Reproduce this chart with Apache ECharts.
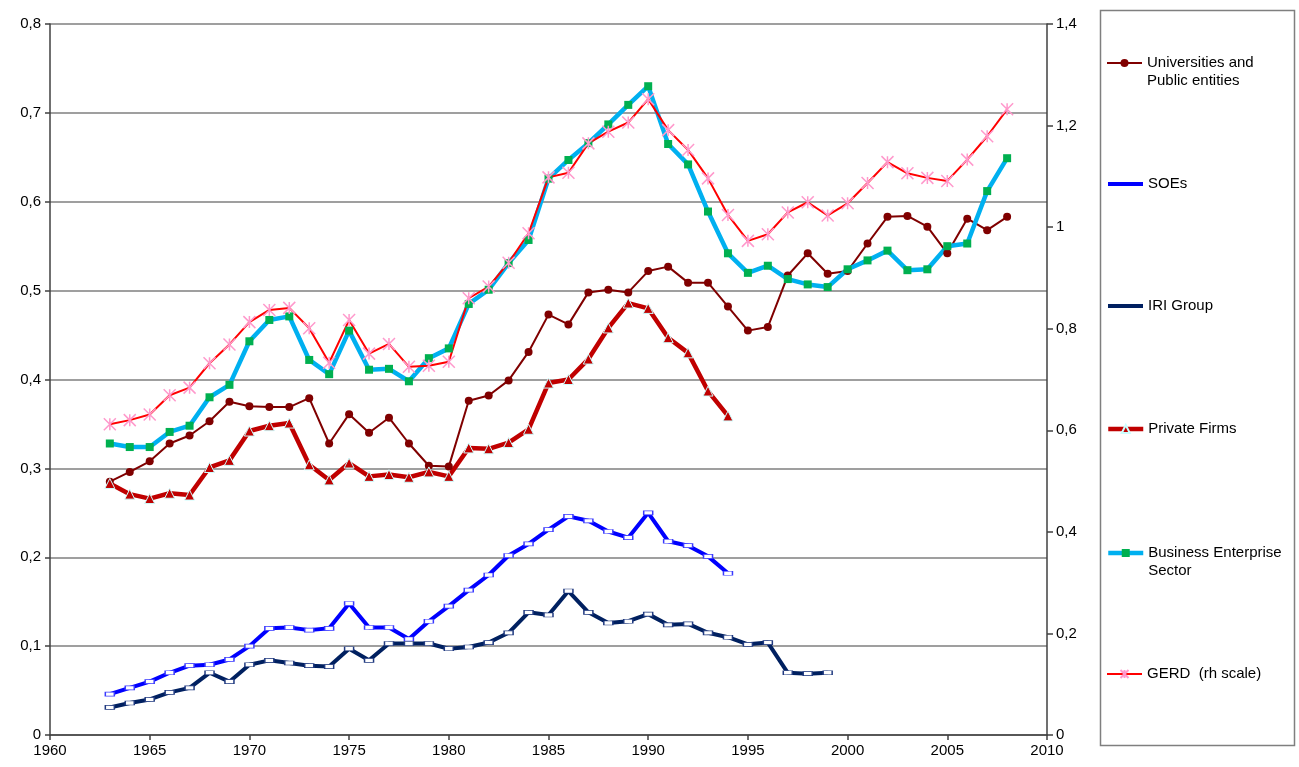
<!DOCTYPE html>
<html>
<head>
<meta charset="utf-8">
<script src="https://cdn.jsdelivr.net/npm/echarts@6.0.0/dist/echarts.min.js"></script>
<style>
  html, body { margin: 0; padding: 0; background: #fff; }
  #chart { width: 1299px; height: 767px; }
</style>
</head>
<body>
<div id="chart"></div>
<script>
// years shared by all series (each series starts in 1963)
const years = [1963, 1964, 1965, 1966, 1967, 1968, 1969, 1970, 1971, 1972,
  1973, 1974, 1975, 1976, 1977, 1978, 1979, 1980, 1981, 1982,
  1983, 1984, 1985, 1986, 1987, 1988, 1989, 1990, 1991, 1992,
  1993, 1994, 1995, 1996, 1997, 1998, 1999, 2000, 2001, 2002,
  2003, 2004, 2005, 2006, 2007, 2008];

const univ = [0.285, 0.296, 0.308, 0.328, 0.337, 0.353, 0.375, 0.370, 0.369, 0.369,
  0.379, 0.328, 0.361, 0.340, 0.357, 0.328, 0.303, 0.302, 0.376, 0.382,
  0.399, 0.431, 0.473, 0.462, 0.498, 0.501, 0.498, 0.522, 0.527, 0.509,
  0.509, 0.482, 0.455, 0.459, 0.517, 0.542, 0.519, 0.522, 0.553, 0.583,
  0.584, 0.572, 0.542, 0.581, 0.568, 0.583];

const soe = [0.046, 0.053, 0.060, 0.070, 0.078, 0.079, 0.085, 0.100, 0.120, 0.121,
  0.118, 0.120, 0.148, 0.121, 0.121, 0.108, 0.128, 0.145, 0.163, 0.180,
  0.202, 0.215, 0.231, 0.246, 0.241, 0.229, 0.222, 0.250, 0.218, 0.213,
  0.201, 0.182];

const iri = [0.031, 0.036, 0.040, 0.048, 0.053, 0.070, 0.060, 0.079, 0.084, 0.081,
  0.078, 0.077, 0.097, 0.084, 0.103, 0.103, 0.103, 0.097, 0.099, 0.104,
  0.115, 0.138, 0.135, 0.162, 0.138, 0.126, 0.128, 0.136, 0.124, 0.125,
  0.115, 0.110, 0.102, 0.104, 0.070, 0.069, 0.070];

const privateFirms = [0.283, 0.271, 0.266, 0.272, 0.270, 0.301, 0.309, 0.342, 0.348, 0.351,
  0.304, 0.287, 0.306, 0.291, 0.293, 0.290, 0.296, 0.291, 0.323, 0.322,
  0.329, 0.344, 0.396, 0.400, 0.423, 0.458, 0.486, 0.480, 0.447, 0.430,
  0.387, 0.359];

const bes = [0.328, 0.324, 0.324, 0.341, 0.348, 0.380, 0.394, 0.443, 0.467, 0.471,
  0.422, 0.406, 0.455, 0.411, 0.412, 0.398, 0.424, 0.435, 0.485, 0.501,
  0.531, 0.557, 0.626, 0.647, 0.666, 0.687, 0.709, 0.730, 0.665, 0.642,
  0.589, 0.542, 0.520, 0.528, 0.513, 0.507, 0.504, 0.524, 0.534, 0.545,
  0.523, 0.524, 0.550, 0.553, 0.612, 0.649];

// GERD on the right-hand scale
const gerd = [0.612, 0.620, 0.631, 0.669, 0.684, 0.732, 0.769, 0.813, 0.837, 0.841,
  0.801, 0.733, 0.817, 0.751, 0.770, 0.725, 0.727, 0.735, 0.860, 0.883,
  0.930, 0.988, 1.098, 1.107, 1.165, 1.188, 1.206, 1.252, 1.191, 1.152,
  1.096, 1.024, 0.973, 0.986, 1.029, 1.049, 1.023, 1.047, 1.087, 1.128,
  1.106, 1.097, 1.091, 1.133, 1.179, 1.232];

const names = ['Universities and Public entities', 'SOEs', 'IRI Group',
  'Private Firms', 'Business Enterprise Sector', 'GERD  (rh scale)'];
// leading blank line keeps the first text line level with the icon
const legendText = {
  'Universities and Public entities': '\nUniversities and\nPublic entities',
  'Business Enterprise Sector': '\nBusiness Enterprise\nSector'
};

const font = 'Liberation Sans, Arial, sans-serif';
const pairs = vals => vals.map((v, i) => [years[i], v]);
const comma = v => String(parseFloat(v.toFixed(1))).replace('.', ',');

const myChart = echarts.init(document.getElementById('chart'));

// one legend per entry so each sits where it does in the original box
const legendY = [62, 184, 306, 429, 552, 674];
const legends = names.map((n, i) => {
  const two = !!legendText[n];
  return {
    data: [n],
    left: 1106,
    top: two ? legendY[i] - 26 : legendY[i] - 9,
    padding: 0,
    itemWidth: 35,
    itemHeight: 10,
    selectedMode: false,
    lineStyle: { width: 'inherit' },
    formatter: name => legendText[name] || name,
    textStyle: { fontFamily: font, fontSize: 15, color: '#000', lineHeight: 18 }
  };
});

const option = {
  animation: false,
  backgroundColor: '#fff',
  grid: { left: 50, right: 252, top: 24, bottom: 32 },
  graphic: [{
    type: 'rect',
    shape: { x: 1100.5, y: 10.5, width: 194, height: 735 },
    style: { fill: 'none', stroke: '#7f7f7f', lineWidth: 1.5 },
    silent: true
  }],
  legend: legends,
  xAxis: {
    type: 'value',
    min: 1960, max: 2010, interval: 5,
    splitLine: { show: false },
    axisLine: { lineStyle: { color: '#404040', width: 1.5 } },
    axisTick: { show: true, length: 5, lineStyle: { color: '#404040', width: 1.5 } },
    axisLabel: { fontFamily: font, fontSize: 15, color: '#000', margin: 8, formatter: v => String(v) }
  },
  yAxis: [{
    type: 'value',
    min: 0, max: 0.8, interval: 0.1,
    axisLine: { show: true, lineStyle: { color: '#404040', width: 1.5 } },
    axisTick: { show: true, length: 5, lineStyle: { color: '#404040', width: 1.5 } },
    splitLine: { show: true, lineStyle: { color: '#7f7f7f', width: 1.5 } },
    axisLabel: { fontFamily: font, fontSize: 15, color: '#000', margin: 9, formatter: comma }
  }, {
    type: 'value',
    min: 0, max: 1.4, interval: 0.2,
    position: 'right',
    axisLine: { show: true, lineStyle: { color: '#404040', width: 1.5 } },
    axisTick: { show: true, length: 6, lineStyle: { color: '#404040', width: 1.5 } },
    splitLine: { show: false },
    axisLabel: { fontFamily: font, fontSize: 15, color: '#000', margin: 9, formatter: comma }
  }],
  series: [
    {
      name: names[0], type: 'line', data: pairs(univ),
      lineStyle: { color: '#800000', width: 2 },
      itemStyle: { color: '#800000' },
      symbol: 'circle', symbolSize: 8, showAllSymbol: true
    },
    {
      name: names[1], type: 'line', data: pairs(soe),
      lineStyle: { color: '#0000ff', width: 4 },
      itemStyle: { color: '#ffffff', borderColor: '#3a3aff', borderWidth: 1 },
      symbol: 'rect', symbolSize: [9, 4], showAllSymbol: true
    },
    {
      name: names[2], type: 'line', data: pairs(iri),
      lineStyle: { color: '#002060', width: 4 },
      itemStyle: { color: '#ffffff', borderColor: '#203a80', borderWidth: 1 },
      symbol: 'rect', symbolSize: [9, 4], showAllSymbol: true
    },
    {
      name: names[3], type: 'line', data: pairs(privateFirms),
      lineStyle: { color: '#c00000', width: 4.5 },
      itemStyle: { color: '#c00000', borderColor: '#ccffff', borderWidth: 1 },
      symbol: 'triangle', symbolSize: 10, showAllSymbol: true
    },
    {
      name: names[4], type: 'line', data: pairs(bes),
      lineStyle: { color: '#00b0f0', width: 4.5 },
      itemStyle: { color: '#00b050' },
      symbol: 'rect', symbolSize: 8, showAllSymbol: true
    },
    {
      name: names[5], type: 'line', yAxisIndex: 1, data: pairs(gerd),
      lineStyle: { color: '#ff0000', width: 2 },
      itemStyle: { color: '#ff99cc', borderColor: '#ff99cc', borderWidth: 1.5 },
      symbol: 'path://M0,0L10,10M10,0L0,10M5,0L5,10', symbolSize: 12, showAllSymbol: true
    }
  ]
};

// legend icons for SOEs / IRI show a plain line
option.legend[1].data = [{ name: names[1], itemStyle: { opacity: 0 } }];
option.legend[2].data = [{ name: names[2], itemStyle: { opacity: 0 } }];

myChart.setOption(option);
</script>
</body>
</html>
